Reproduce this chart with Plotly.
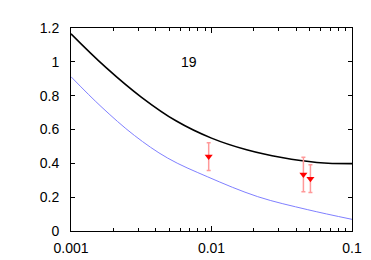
import math
import plotly.graph_objects as go

# black curve
black_x = [0.001, 0.001778, 0.003162, 0.005623, 0.01, 0.01778, 0.03162, 0.05623, 0.1]
black_y = [1.166, 0.966, 0.792, 0.65, 0.549, 0.48, 0.434, 0.405, 0.398]

# blue curve
blue_x = [0.001, 0.001635, 0.002825, 0.004875, 0.0094, 0.02133, 0.04842, 0.1]
blue_y = [0.912, 0.736, 0.565, 0.431, 0.32, 0.203, 0.126, 0.069]

# data points
pts_x = [0.00955, 0.0451, 0.0506]
pts_y = [0.44, 0.334, 0.309]
pts_err = [0.082, 0.102, 0.082]

label_text = "19"
label_x = 0.0069
label_y = 1.0

fig = go.Figure()
fig.add_trace(go.Scatter(x=black_x, y=black_y, mode="lines",
                         line=dict(color="black", width=1.6, shape="spline", smoothing=1.2), showlegend=False))
fig.add_trace(go.Scatter(x=blue_x, y=blue_y, mode="lines",
                         line=dict(color="#8080ff", width=1, shape="spline", smoothing=1.0), showlegend=False))
fig.add_trace(go.Scatter(x=pts_x, y=pts_y, mode="markers",
                         marker=dict(symbol="triangle-down", color="red", size=7),
                         error_y=dict(type="data", array=pts_err, visible=True, color="#ff9999", thickness=1.5, width=2),
                         showlegend=False))
fig.add_annotation(x=math.log10(label_x), y=label_y, xref="x", yref="y", text=label_text, showarrow=False,
                   font=dict(size=14, color="black"))

fig.update_layout(
    width=371, height=260,
    margin=dict(l=63, r=27, t=19, b=31),
    paper_bgcolor="white", plot_bgcolor="white",
    font=dict(family="Liberation Sans, Arial, sans-serif", size=14, color="black"),
)
fig.update_xaxes(type="log", range=[-3, -1], tickvals=[0.001, 0.01, 0.1], ticktext=["0.001", "0.01", "0.1"],
                 showgrid=False, zeroline=False, showline=True, linecolor="black", linewidth=1, mirror="ticks",
                 ticks="inside", ticklen=5, tickcolor="black",
                 minor=dict(ticks="inside", ticklen=3, tickcolor="black", showgrid=False, dtick="D1"),
                 ticklabelstandoff=4)
fig.update_yaxes(range=[0, 1.2], tickvals=[0, 0.2, 0.4, 0.6, 0.8, 1, 1.2],
                 ticktext=["0", "0.2", "0.4", "0.6", "0.8", "1", "1.2"],
                 showgrid=False, zeroline=False, showline=True, linecolor="black", linewidth=1, mirror="ticks",
                 ticks="inside", ticklen=4, tickcolor="black", ticklabelstandoff=8)

fig.write_html("out.html")
